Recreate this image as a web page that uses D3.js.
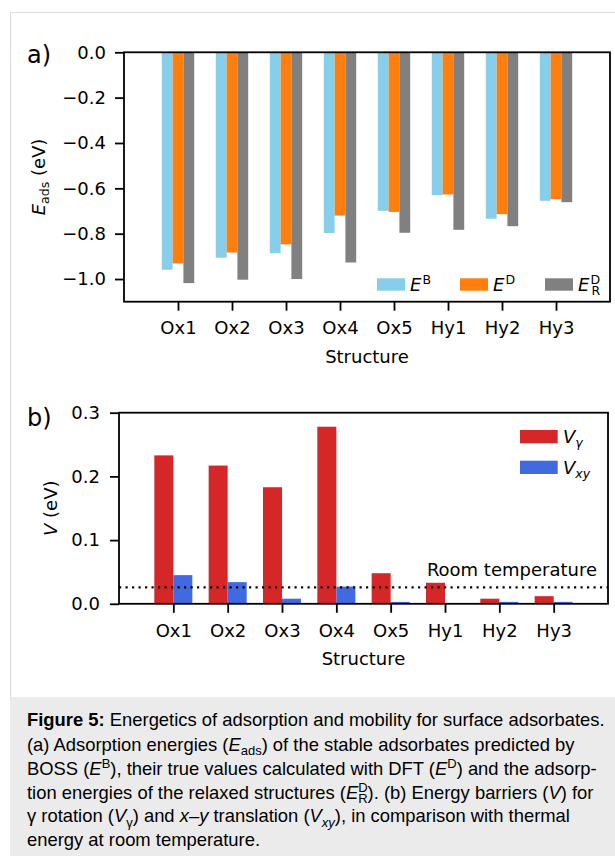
<!DOCTYPE html>
<html>
<head>
<meta charset="utf-8">
<script src="https://cdn.jsdelivr.net/npm/d3@7"></script>
<style>
  html, body { margin: 0; padding: 0; background: #fff; }
  svg { display: block; }
</style>
</head>
<body>
<svg id="chart" width="615" height="856"></svg>
<script>
// ---------------- DATA ----------------
const categories = ["Ox1", "Ox2", "Ox3", "Ox4", "Ox5", "Hy1", "Hy2", "Hy3"];
// Panel a: adsorption energies (eV)
const eBoss  = [-0.959, -0.906, -0.886, -0.797, -0.699, -0.630, -0.734, -0.655];
const eDft   = [-0.931, -0.883, -0.847, -0.720, -0.704, -0.627, -0.714, -0.648];
const eRelax = [-1.018, -1.003, -1.000, -0.927, -0.796, -0.783, -0.767, -0.661];
const yTicksA = [0.0, -0.2, -0.4, -0.6, -0.8, -1.0];
// Panel b: energy barriers (eV)
const vGamma = [0.233, 0.217, 0.183, 0.278, 0.048, 0.033, 0.008, 0.012];
const vXY    = [0.045, 0.034, 0.008, 0.027, 0.003, 0.000, 0.003, 0.003];
const yTicksB = [0.0, 0.1, 0.2, 0.3];
const roomTemperature = 0.0257;

// ---------------- SETUP ----------------
const svg = d3.select("#chart");
const FONT = "DejaVu Sans";
const FS = 18;

// page frame and caption background
svg.append("line").attr("x1", 10.5).attr("x2", 10.5).attr("y1", 12.5).attr("y2", 856)
  .attr("stroke", "#dcdcdc").attr("stroke-width", 1);
svg.append("line").attr("x1", 10).attr("x2", 615).attr("y1", 12.5).attr("y2", 12.5)
  .attr("stroke", "#dcdcdc").attr("stroke-width", 1);
svg.append("rect").attr("x", 10).attr("y", 697).attr("width", 605).attr("height", 159)
  .attr("fill", "#ebebeb");

function rich(textSel, segs) {
  segs.forEach(s => {
    const ts = textSel.append("tspan").text(s.t);
    if (s.i) ts.attr("font-style", "italic");
    if (s.b) ts.attr("font-weight", "bold");
    if (s.fs) ts.attr("font-size", s.fs);
    if (s.dy) ts.attr("dy", s.dy);
    if (s.dx) ts.attr("dx", s.dx);
  });
  return textSel;
}

function styleAxis(g) {
  g.select(".domain").remove();
  g.selectAll(".tick line").attr("stroke", "#000").attr("stroke-width", 1.8);
  g.selectAll(".tick text").attr("font-family", FONT).attr("font-size", FS).attr("fill", "#000");
}

// ---------------- PANEL A ----------------
const A = { left: 124, right: 610, top: 52.3, bottom: 301.7 };
const xA = d3.scaleLinear().domain([-1, 8]).range([A.left, A.right]);
const yA = d3.scaleLinear().domain([-1.1, 0]).range([A.bottom, A.top]);
const bwA = 0.2;
const seriesA = [
  { vals: eBoss, color: "#87ceeb", off: -0.2 },
  { vals: eDft, color: "#ff7f0e", off: 0.0 },
  { vals: eRelax, color: "#808080", off: 0.2 }
];
const gA = svg.append("g");
seriesA.forEach(s => {
  gA.selectAll(null).data(s.vals).enter().append("rect")
    .attr("x", (d, i) => xA(i + s.off - bwA / 2))
    .attr("width", (d, i) => xA(i + s.off + bwA / 2) - xA(i + s.off - bwA / 2))
    .attr("y", yA(0))
    .attr("height", d => yA(d) - yA(0))
    .attr("fill", s.color);
});
gA.append("g").attr("transform", `translate(${A.left},0)`)
  .call(d3.axisLeft(yA).tickValues(yTicksA).tickFormat(d3.format(".1f")).tickSize(9).tickPadding(9))
  .call(styleAxis);
gA.append("g").attr("transform", `translate(0,${A.bottom})`)
  .call(d3.axisBottom(xA).tickValues(d3.range(categories.length)).tickFormat(i => categories[i]).tickSize(9).tickPadding(11))
  .call(styleAxis);
gA.append("rect").attr("x", A.left).attr("y", A.top).attr("width", A.right - A.left).attr("height", A.bottom - A.top)
  .attr("fill", "none").attr("stroke", "#000").attr("stroke-width", 1.8);
// labels
gA.append("text").attr("x", 27).attr("y", 63).attr("font-family", FONT).attr("font-size", 24).text("a)");
gA.append("text").attr("x", (A.left + A.right) / 2).attr("y", 362.5).attr("text-anchor", "middle")
  .attr("font-family", FONT).attr("font-size", FS).text("Structure");
rich(gA.append("text").attr("transform", `translate(45,${(A.top + A.bottom) / 2}) rotate(-90)`)
  .attr("text-anchor", "middle").attr("font-family", FONT).attr("font-size", FS),
  [{ t: "E", i: true }, { t: "ads", fs: 12.5, dy: 3.5 }, { t: " (eV)", dy: -3.5 }]);
// legend
const legA = [
  { color: "#87ceeb", x: 377, sup: "B" },
  { color: "#ff7f0e", x: 460, sup: "D" },
  { color: "#808080", x: 545, sup: "D", sub: "R" }
];
legA.forEach(l => {
  gA.append("rect").attr("x", l.x).attr("y", 278.3).attr("width", 28).attr("height", 12.4).attr("fill", l.color);
  const t = gA.append("text").attr("x", l.x + 33).attr("y", 290.7).attr("font-family", FONT).attr("font-size", FS);
  const segs = [{ t: "E", i: true }, { t: l.sup, fs: 12.5, dy: -7, dx: 1 }];
  if (l.sub) segs.push({ t: l.sub, fs: 12.5, dy: 11, dx: -8.6 });
  rich(t, segs);
});

// ---------------- PANEL B ----------------
const B = { left: 119, right: 608, top: 412.7, bottom: 603.8 };
const xB = d3.scaleLinear().domain([-1, 8]).range([B.left, B.right]);
const yB = d3.scaleLinear().domain([0, 0.3]).range([B.bottom, B.top]);
const bwB = 0.35;
const seriesB = [
  { vals: vGamma, color: "#d62728", off: -0.175 },
  { vals: vXY, color: "#4169e1", off: 0.175 }
];
const gB = svg.append("g");
seriesB.forEach(s => {
  gB.selectAll(null).data(s.vals).enter().append("rect")
    .attr("x", (d, i) => xB(i + s.off - bwB / 2))
    .attr("width", (d, i) => xB(i + s.off + bwB / 2) - xB(i + s.off - bwB / 2))
    .attr("y", d => yB(d))
    .attr("height", d => yB(0) - yB(d))
    .attr("fill", s.color);
});
gB.append("line").attr("x1", B.left).attr("x2", B.right)
  .attr("y1", yB(roomTemperature)).attr("y2", yB(roomTemperature))
  .attr("stroke", "#000").attr("stroke-width", 2.2).attr("stroke-dasharray", "2.2,4.3");
gB.append("text").attr("x", 597).attr("y", 576).attr("text-anchor", "end")
  .attr("font-family", FONT).attr("font-size", FS).text("Room temperature");
gB.append("g").attr("transform", `translate(${B.left},0)`)
  .call(d3.axisLeft(yB).tickValues(yTicksB).tickFormat(d3.format(".1f")).tickSize(9).tickPadding(10))
  .call(styleAxis);
gB.append("g").attr("transform", `translate(0,${B.bottom})`)
  .call(d3.axisBottom(xB).tickValues(d3.range(categories.length)).tickFormat(i => categories[i]).tickSize(9).tickPadding(11))
  .call(styleAxis);
gB.append("rect").attr("x", B.left).attr("y", B.top).attr("width", B.right - B.left).attr("height", B.bottom - B.top)
  .attr("fill", "none").attr("stroke", "#000").attr("stroke-width", 1.8);
gB.append("text").attr("x", 27).attr("y", 426).attr("font-family", FONT).attr("font-size", 24).text("b)");
gB.append("text").attr("x", (B.left + B.right) / 2).attr("y", 665).attr("text-anchor", "middle")
  .attr("font-family", FONT).attr("font-size", FS).text("Structure");
rich(gB.append("text").attr("transform", `translate(57,${(B.top + B.bottom) / 2}) rotate(-90)`)
  .attr("text-anchor", "middle").attr("font-family", FONT).attr("font-size", FS),
  [{ t: "V", i: true }, { t: " (eV)" }]);
const legB = [
  { color: "#d62728", y: 430, sub: "γ" },
  { color: "#4169e1", y: 460.7, sub: "xy" }
];
legB.forEach(l => {
  gB.append("rect").attr("x", 520).attr("y", l.y).attr("width", 37.7).attr("height", 13.3).attr("fill", l.color);
  rich(gB.append("text").attr("x", 563).attr("y", l.y + 13.3).attr("font-family", FONT).attr("font-size", FS),
    [{ t: "V", i: true }, { t: l.sub, i: true, fs: 12.5, dy: 4 }]);
});

// ---------------- CAPTION ----------------
const CF = "Liberation Sans, Arial, sans-serif";
const SFS = 13;
const cap = svg.append("g").attr("font-family", CF).attr("font-size", 18.4).attr("fill", "#000");
const lines = [
  [{ t: "Figure 5:", b: true }, { t: " Energetics of adsorption and mobility for surface adsorbates." }],
  [{ t: "(a) Adsorption energies (" }, { t: "E", i: true }, { t: "ads", fs: SFS, dy: 4.5 }, { t: ") of the stable adsorbates predicted by", dy: -4.5 }],
  [{ t: "BOSS (" }, { t: "E", i: true }, { t: "B", fs: SFS, dy: -7 }, { t: "), their true values calculated with DFT (", dy: 7 }, { t: "E", i: true }, { t: "D", fs: SFS, dy: -7 }, { t: ") and the adsorp-", dy: 7 }],
  [{ t: "tion energies of the relaxed structures (" }, { t: "E", i: true }, { t: "D", fs: SFS, dy: -7 }, { t: "R", fs: SFS, dx: -9.4, dy: 11 }, { t: "). (b) Energy barriers (", dy: -4 }, { t: "V", i: true }, { t: ") for" }],
  [{ t: "γ rotation (" }, { t: "V", i: true }, { t: "γ", fs: SFS, dy: 4.5 }, { t: ") and ", dy: -4.5 }, { t: "x–y", i: true }, { t: " translation (" }, { t: "V", i: true }, { t: "xy", i: true, fs: SFS, dy: 4.5 }, { t: "), in comparison with thermal", dy: -4.5 }],
  [{ t: "energy at room temperature." }]
];
const baselines = [726, 750.5, 774.5, 798.5, 822.3, 846];
lines.forEach((segs, k) => {
  rich(cap.append("text").attr("x", 27).attr("y", baselines[k]), segs);
});
</script>
</body>
</html>
